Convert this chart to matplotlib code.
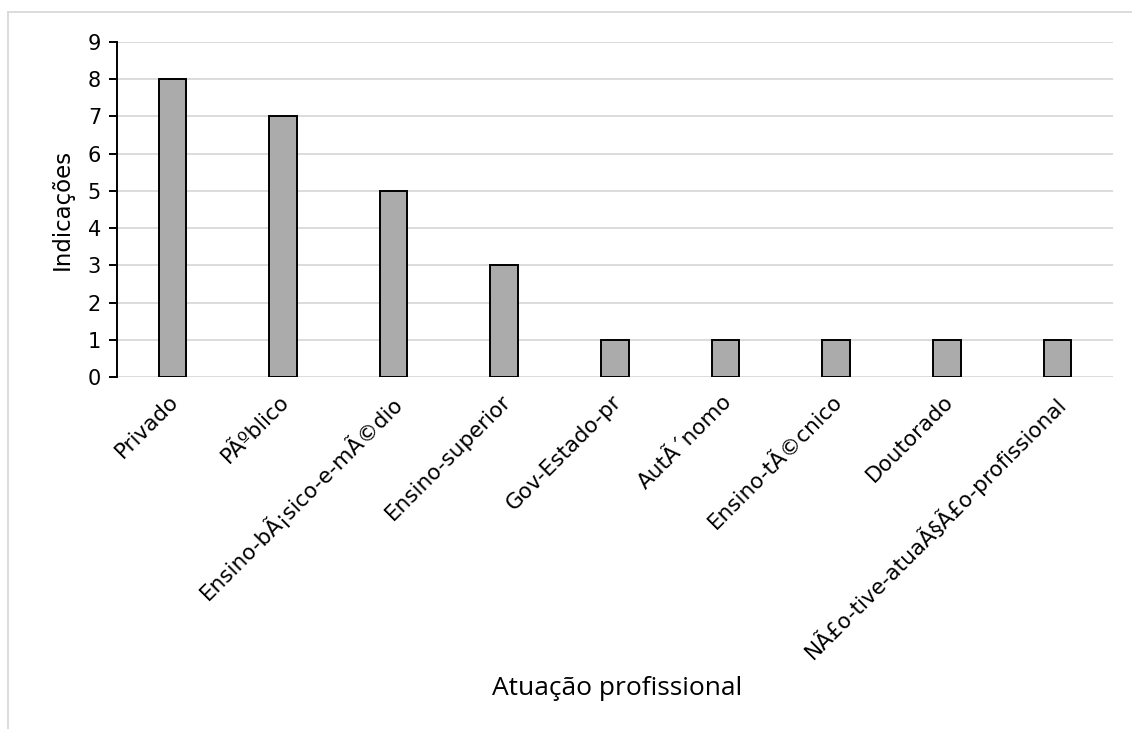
import matplotlib
matplotlib.use("Agg")
import matplotlib.pyplot as plt
from matplotlib.transforms import ScaledTranslation
from matplotlib.lines import Line2D

categories = [
    "Privado",
    "PÃºblico",
    "Ensino-bÃ¡sico-e-mÃ©dio",
    "Ensino-superior",
    "Gov-Estado-pr",
    "AutÃ´nomo",
    "Ensino-tÃ©cnico",
    "Doutorado",
    "NÃ£o-tive-atuaÃ§Ã£o-profissional",
]
values = [8, 7, 5, 3, 1, 1, 1, 1, 1]
y_ticks = list(range(0, 10))

plt.rcParams["font.family"] = ["DejaVu Sans"]

fig = plt.figure(figsize=(11.32, 7.29), dpi=100)
ax = fig.add_axes([0.1034, 0.4829, 0.8796, 0.4595])

x = list(range(len(categories)))
ax.bar(x, values, width=0.25, color="#ababab", edgecolor="black", linewidth=1.4, zorder=3)

ax.set_xlim(-0.5, len(categories) - 0.5)
ax.set_ylim(0, 9)
ax.set_yticks(y_ticks)
ax.set_yticklabels([str(t) for t in y_ticks], fontsize=15)
ax.yaxis.grid(True, color="#d9d9d9", linewidth=1.3, zorder=0)
ax.set_axisbelow(True)

for side in ("top", "right", "bottom"):
    ax.spines[side].set_visible(False)
ax.spines["left"].set_linewidth(1.4)
ax.tick_params(axis="y", direction="out", length=5.5, width=1.4, pad=6)
ax.tick_params(axis="x", length=0, pad=10)

ax.set_xticks(x)
ax.set_xticklabels(categories, rotation=45, ha="right", rotation_mode="anchor",
                   fontsize=15.5)
offset = ScaledTranslation(-0.04, 0.0, fig.dpi_scale_trans)
for lbl in ax.get_xticklabels():
    lbl.set_transform(lbl.get_transform() + offset)

ax.set_ylabel("Indicações", fontsize=16.5)
ax.yaxis.set_label_coords(-0.043, 0.5)
fig.text(0.545, 0.055, "Atuação profissional", ha="center", va="center",
         fontsize=19, family=["Open Sans", "DejaVu Sans"])

# light frame around the figure
fig.add_artist(Line2D([8 / 1132, 8 / 1132], [0, 1 - 12 / 729], transform=fig.transFigure,
                      color="#d9d9d9", linewidth=1.3))
fig.add_artist(Line2D([8 / 1132, 1], [1 - 12 / 729, 1 - 12 / 729], transform=fig.transFigure,
                      color="#d9d9d9", linewidth=1.3))

fig.savefig("out.png", dpi=100)
